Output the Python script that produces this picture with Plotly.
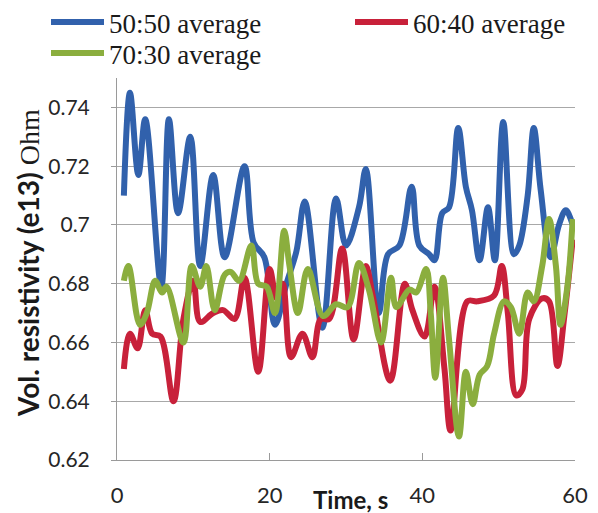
import plotly.graph_objects as go

# ---- data ----
blue_x = [0.9, 1.7, 2.8, 3.7, 5.8, 6.8, 8.0, 9.6, 10.9, 12.6, 14.1, 16.7, 17.9, 19.3, 20.7,
          22.2, 23.5, 24.6, 26.9, 28.7, 30.0, 31.7, 32.6, 34.3, 35.5, 37.0, 38.6, 39.6, 40.9,
          41.6, 42.6, 43.5, 44.7, 45.7, 46.5, 47.5, 48.6, 49.5, 50.6, 52.0, 52.7, 53.8, 54.6,
          55.5, 56.8, 57.9, 58.8, 59.7]
blue_y = [0.710, 0.745, 0.717, 0.736, 0.679, 0.736, 0.704, 0.730, 0.686, 0.717, 0.689, 0.720, 0.694, 0.689, 0.666,
          0.680, 0.691, 0.708, 0.665, 0.709, 0.693, 0.706, 0.719, 0.670, 0.690, 0.693, 0.713, 0.693, 0.690,
          0.688, 0.704, 0.706, 0.733, 0.713, 0.705, 0.688, 0.706, 0.688, 0.735, 0.690, 0.693, 0.710, 0.733,
          0.712, 0.689, 0.700, 0.705, 0.700]

red_x = [0.9, 1.7, 2.7, 3.7, 4.6, 5.7, 7.4, 8.7, 10.0, 10.9, 12.6, 13.9, 15.4, 16.7, 18.5, 20.0,
         20.9, 21.7, 22.8, 24.3, 25.6, 26.7, 27.8, 29.5, 31.0, 32.6, 33.5, 35.8, 37.7, 38.7, 40.3,
         41.6, 42.9, 43.7, 45.9, 47.2, 49.4, 50.4, 51.2, 52.3, 53.1, 54.0, 55.7, 56.6, 57.7, 58.6, 59.7]
red_y = [0.651, 0.663, 0.658, 0.671, 0.663, 0.662, 0.640, 0.668, 0.681, 0.667, 0.670, 0.671, 0.668, 0.682, 0.650, 0.685,
         0.675, 0.680, 0.655, 0.663, 0.655, 0.668, 0.668, 0.692, 0.661, 0.686, 0.676, 0.647, 0.680, 0.671, 0.662,
         0.679, 0.651, 0.630, 0.674, 0.674, 0.676, 0.686, 0.670, 0.642, 0.644, 0.668, 0.675, 0.674, 0.652, 0.669, 0.695]

green_x = [0.9, 1.5, 3.0, 3.9, 5.0, 5.9, 6.5, 8.7, 9.8, 10.9, 11.7, 12.8, 14.1, 14.9, 16.0, 17.6,
           18.5, 19.6, 20.7, 21.9, 22.6, 23.7, 25.0, 27.0, 28.7, 30.2, 31.7, 33.0, 34.6, 35.9, 36.6,
           38.3, 39.2, 40.5, 41.1, 41.7, 42.7, 43.5, 44.8, 45.7, 46.6, 47.5, 48.5, 49.4, 50.7, 51.6,
           52.7, 53.8, 54.6, 55.7, 56.6, 57.5, 58.1, 59.0, 59.7]
green_y = [0.681, 0.686, 0.666, 0.670, 0.681, 0.677, 0.679, 0.660, 0.686, 0.679, 0.686, 0.671, 0.683, 0.684, 0.681, 0.693,
           0.680, 0.679, 0.670, 0.698, 0.686, 0.670, 0.685, 0.669, 0.673, 0.672, 0.687, 0.678, 0.660, 0.682, 0.672,
           0.678, 0.677, 0.685, 0.670, 0.648, 0.682, 0.661, 0.628, 0.650, 0.639, 0.649, 0.652, 0.663, 0.674, 0.672,
           0.663, 0.677, 0.674, 0.686, 0.702, 0.686, 0.666, 0.679, 0.702]

series_names = ["50:50 average", "60:40 average", "70:30 average"]
y_tickvals = [0.62, 0.64, 0.66, 0.68, 0.70, 0.72, 0.74]
y_ticktext = ["0.62", "0.64", "0.66", "0.68", "0.7", "0.72", "0.74"]
x_tickvals = [0, 20, 40, 60]

colors = ["#3161AC", "#C8213A", "#8BAE3E"]
legend_ids = ["legend", "legend2", "legend3"]

fig = go.Figure()
for xs, ys, name, c, lg in zip([blue_x, red_x, green_x], [blue_y, red_y, green_y],
                               series_names, colors, legend_ids):
    fig.add_trace(go.Scatter(x=xs, y=ys, name=name, mode="lines", legend=lg,
                             line=dict(color=c, width=6, shape="spline", smoothing=1.0)))

# page body has an 8px margin, so the figure is sized/positioned to compensate
W, H = 590, 505
L, R, T, B = 109, 23, 70, 53
pw, ph = W - L - R, H - T - B

leg_font = dict(family="Liberation Serif", size=27, color="#1a1a1a")
IW = 53
def leg(xpx, toppx):
    return dict(xref="container", yref="paper", x=xpx / W, y=1 + (T - toppx) / ph,
                xanchor="left", yanchor="top", font=leg_font,
                bgcolor="rgba(0,0,0,0)", itemwidth=IW, borderwidth=0)

fig.update_layout(
    width=W, height=H,
    margin=dict(l=L, r=R, t=T, b=B, autoexpand=False),
    paper_bgcolor="white", plot_bgcolor="white",
    font=dict(family="Lato", size=22, color="#262626"),
    showlegend=True,
    legend=leg(38, -10),
    legend2=leg(342, -10),
    legend3=leg(38, 21),
)
fig.update_xaxes(range=[0, 60], tickvals=x_tickvals, showgrid=False, zeroline=False,
                 showline=True, linecolor="#9a9a9a", linewidth=1,
                 ticks="inside", ticklen=7, tickcolor="#9a9a9a",
                 tickfont=dict(family="Lato", size=22, color="#262626"),
                 ticklabelstandoff=16)
fig.update_yaxes(range=[0.62, 0.75], tickvals=y_tickvals, ticktext=y_ticktext,
                 showgrid=True, gridcolor="#a8a8a8", gridwidth=1, zeroline=False,
                 showline=True, linecolor="#9a9a9a", linewidth=1,
                 ticks="outside", ticklen=5, tickcolor="#9a9a9a",
                 tickfont=dict(family="Lato", size=21, color="#262626"),
                 ticklabelstandoff=17)

# axis titles
fig.add_annotation(xref="paper", yref="paper", x=(20 - L) / pw, y=(452 - 255) / ph,
                   text="<b>Vol. resistivity (e13)</b> <span style='font-family:Liberation Serif'>Ohm</span>",
                   textangle=-90, showarrow=False, xanchor="center", yanchor="middle",
                   font=dict(family="Lato", size=28, color="#1a1a1a"))
fig.add_annotation(xref="paper", yref="paper", x=(342 - L) / pw, y=(452 - 492) / ph,
                   text="<b>Time, s</b>", showarrow=False, xanchor="center", yanchor="middle",
                   font=dict(family="Lato", size=24, color="#1a1a1a"))

fig.write_html("out.html")
